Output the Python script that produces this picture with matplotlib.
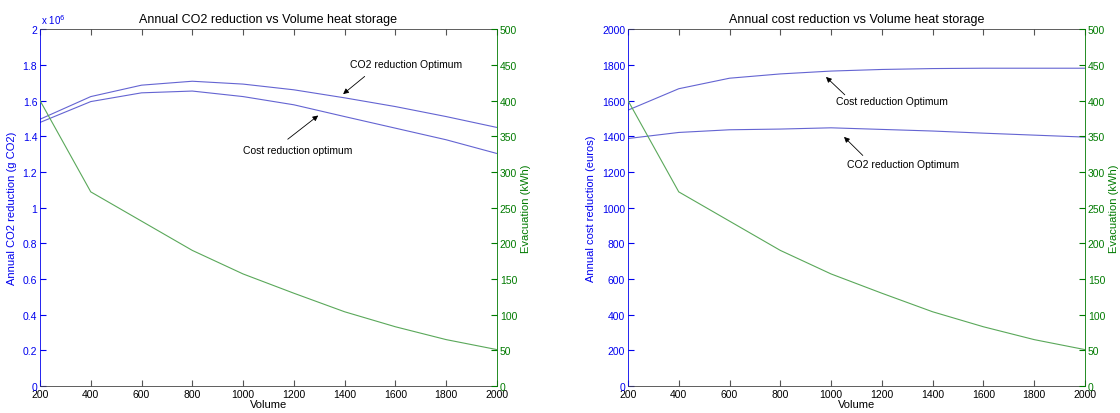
import numpy as np
import matplotlib.pyplot as plt

plt.rcParams['font.family'] = ['Liberation Sans', 'DejaVu Sans']

volume = [200, 400, 600, 800, 1000, 1200, 1400, 1600, 1800, 2000]

# annual CO2 reduction (x 10^6 g CO2)
co2_at_co2_opt = [1.495, 1.622, 1.686, 1.708, 1.692, 1.660, 1.615, 1.566, 1.510, 1.449]
co2_at_cost_opt = [1.477, 1.594, 1.643, 1.653, 1.622, 1.576, 1.510, 1.445, 1.380, 1.303]

# annual cost reduction (euros)
cost_at_cost_opt = [1546, 1666, 1725, 1749, 1765, 1774, 1779, 1781, 1781, 1781]
cost_at_co2_opt = [1387, 1421, 1436, 1440, 1447, 1438, 1429, 1417, 1406, 1395]

# evacuation (kWh)
evacuation = [400, 272, 231, 190, 157, 130, 104, 83, 65, 51]

BLUE = '#0000ee'
BLUE_LINE = '#6464d2'
GREEN = '#007a00'
GREEN_LINE = '#5aa85a'
FS = 7.5

fig = plt.figure(figsize=(11.2, 4.14), dpi=100)


def setup(ax, ax2, yticks, ylabels, ylabel, title):
    ax.set_xlim(200, 2000)
    ax.set_xticks(range(200, 2001, 200))
    ax.set_ylim(yticks[0], yticks[-1])
    ax.set_yticks(yticks)
    ax.set_yticklabels(ylabels)
    ax.tick_params(axis='x', direction='in', top=True, length=4, labelsize=FS, pad=2,
                   color='#555555')
    ax.tick_params(axis='y', direction='in', length=4, labelsize=FS, colors=BLUE, pad=2)
    ax.spines['left'].set_color(BLUE)
    ax.spines['right'].set_visible(False)
    for s in ['top', 'bottom']:
        ax.spines[s].set_color('#444444')
    for s in ax.spines.values():
        s.set_linewidth(0.6)
    ax.set_xlabel('Volume', fontsize=FS + 0.5, labelpad=0)
    ax.set_ylabel(ylabel, fontsize=FS + 0.5, color=BLUE, labelpad=4)
    ax.set_title(title, fontsize=9, pad=5)

    ax2.set_ylim(0, 500)
    ax2.set_yticks(range(0, 501, 50))
    ax2.tick_params(axis='y', direction='in', length=4, labelsize=FS, colors=GREEN, pad=2)
    ax2.spines['right'].set_color(GREEN)
    ax2.spines['right'].set_linewidth(0.6)
    for s in ['left', 'top', 'bottom']:
        ax2.spines[s].set_visible(False)
    ax2.set_ylabel('Evacuation (kWh)', fontsize=FS + 0.5, color=GREEN, labelpad=3)


def arrow(ax, head, tail):
    ax.annotate('', xy=head, xytext=tail,
                arrowprops=dict(arrowstyle='-|>', color='black', lw=0.6,
                                mutation_scale=8, shrinkA=0, shrinkB=0))


# left panel
ax1 = fig.add_axes([0.0357, 0.0652, 0.408, 0.862])
ax1b = ax1.twinx()
ax1.plot(volume, co2_at_co2_opt, color=BLUE_LINE, lw=0.8)
ax1.plot(volume, co2_at_cost_opt, color=BLUE_LINE, lw=0.8)
ax1b.plot(volume, evacuation, color=GREEN_LINE, lw=0.8)
yt = np.round(np.arange(0, 2.01, 0.2), 1)
setup(ax1, ax1b, yt, ['%g' % v for v in yt], 'Annual CO2 reduction (g CO2)',
      'Annual CO2 reduction vs Volume heat storage')
ax1.text(0.003, 1.008, r'x 10$^6$', transform=ax1.transAxes, fontsize=FS - 0.5,
         color=BLUE, ha='left', va='bottom')
ax1.text(1642, 1.806, 'CO2 reduction Optimum', fontsize=FS, ha='center', va='center')
arrow(ax1, (1394, 1.636), (1479, 1.735))
ax1.text(1215, 1.320, 'Cost reduction optimum', fontsize=FS, ha='center', va='center')
arrow(ax1, (1296, 1.516), (1176, 1.383))

# right panel
ax2 = fig.add_axes([0.5607, 0.0652, 0.408, 0.862])
ax2b = ax2.twinx()
ax2.plot(volume, cost_at_cost_opt, color=BLUE_LINE, lw=0.8)
ax2.plot(volume, cost_at_co2_opt, color=BLUE_LINE, lw=0.8)
ax2b.plot(volume, evacuation, color=GREEN_LINE, lw=0.8)
yt = list(range(0, 2001, 200))
setup(ax2, ax2b, yt, [str(v) for v in yt], 'Annual cost reduction (euros)',
      'Annual cost reduction vs Volume heat storage')
ax2.text(1241, 1600, 'Cost reduction Optimum', fontsize=FS, ha='center', va='center')
arrow(ax2, (980, 1732), (1054, 1632))
ax2.text(1284, 1243, 'CO2 reduction Optimum', fontsize=FS, ha='center', va='center')
arrow(ax2, (1051, 1396), (1125, 1292))

fig.savefig('out.png', dpi=100)
